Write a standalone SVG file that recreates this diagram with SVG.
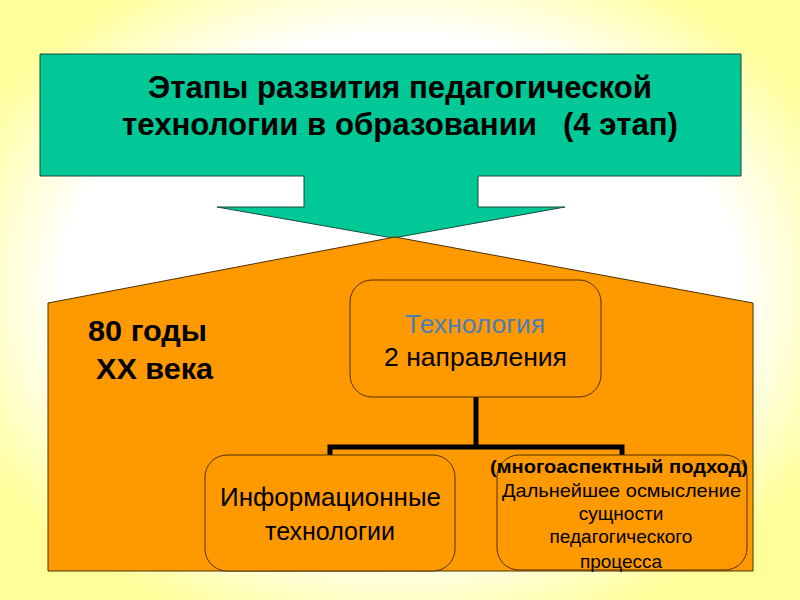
<svg xmlns="http://www.w3.org/2000/svg" width="800" height="600" viewBox="0 0 800 600">
<defs>
<radialGradient id="bg" cx="50%" cy="48%" r="60%">
<stop offset="0" stop-color="#ffffff"/>
<stop offset="0.7" stop-color="#ffffff"/>
<stop offset="1" stop-color="#ffff99"/>
</radialGradient>
<style>
.t{font-family:"Liberation Sans",Arial,sans-serif;fill:#000}
.b{font-weight:bold}
.node{fill:#ff9900;stroke:#4d3000;stroke-width:1}
.conn{fill:none;stroke:#000;stroke-width:5}
</style>
</defs>
<rect width="800" height="600" fill="url(#bg)"/>
<g id="title">
<path d="M40 54 H741 V176 H478 V207 H565 L393 238 L217 207 H304 V176 H40 Z" fill="#00c896" stroke="#1a4a3a" stroke-width="1"/>
<text class="t b" x="148" y="98" font-size="31" textLength="504" lengthAdjust="spacingAndGlyphs">Этапы развития педагогической</text>
<text class="t b" x="122" y="135" font-size="31" textLength="556" lengthAdjust="spacingAndGlyphs" xml:space="preserve">технологии в образовании   (4 этап)</text>
</g>
<g id="stage">
<path d="M48 303 L395 237 L753 303 V571 H48 Z" fill="#ff9900" stroke="#4d3000" stroke-width="1"/>
<text class="t b" x="88" y="341" font-size="30" textLength="119" lengthAdjust="spacingAndGlyphs">80 годы</text>
<text class="t b" x="96" y="379" font-size="30" textLength="117" lengthAdjust="spacingAndGlyphs">XX века</text>
</g>
<g id="connectors">
<path class="conn" d="M476 397 V447 M330 455 V447 H622 V455"/>
</g>
<g id="tech">
<rect class="node" x="350" y="280" width="251" height="117" rx="22"/>
<text class="t" x="405" y="333" font-size="25" textLength="140" lengthAdjust="spacingAndGlyphs" style="fill:#4a7ebb">Технология</text>
<text class="t" x="384" y="366" font-size="25" textLength="183" lengthAdjust="spacingAndGlyphs">2 направления</text>
</g>
<g id="info">
<rect class="node" x="205" y="455" width="250" height="116" rx="22"/>
<text class="t" x="220" y="506" font-size="25" textLength="221" lengthAdjust="spacingAndGlyphs">Информационные</text>
<text class="t" x="330" y="540" font-size="25" text-anchor="middle">технологии</text>
</g>
<g id="multi">
<rect class="node" x="497" y="455" width="250" height="115" rx="22"/>
<text class="t b" x="490" y="473" font-size="19" textLength="258" lengthAdjust="spacingAndGlyphs">(многоаспектный подход)</text>
<text class="t" x="502" y="497" font-size="19" textLength="239" lengthAdjust="spacingAndGlyphs">Дальнейшее осмысление</text>
<text class="t" x="621" y="520" font-size="19" text-anchor="middle">сущности</text>
<text class="t" x="621" y="543" font-size="19" text-anchor="middle">педагогического</text>
<text class="t" x="621" y="568" font-size="19" text-anchor="middle">процесса</text>
</g>
</svg>
